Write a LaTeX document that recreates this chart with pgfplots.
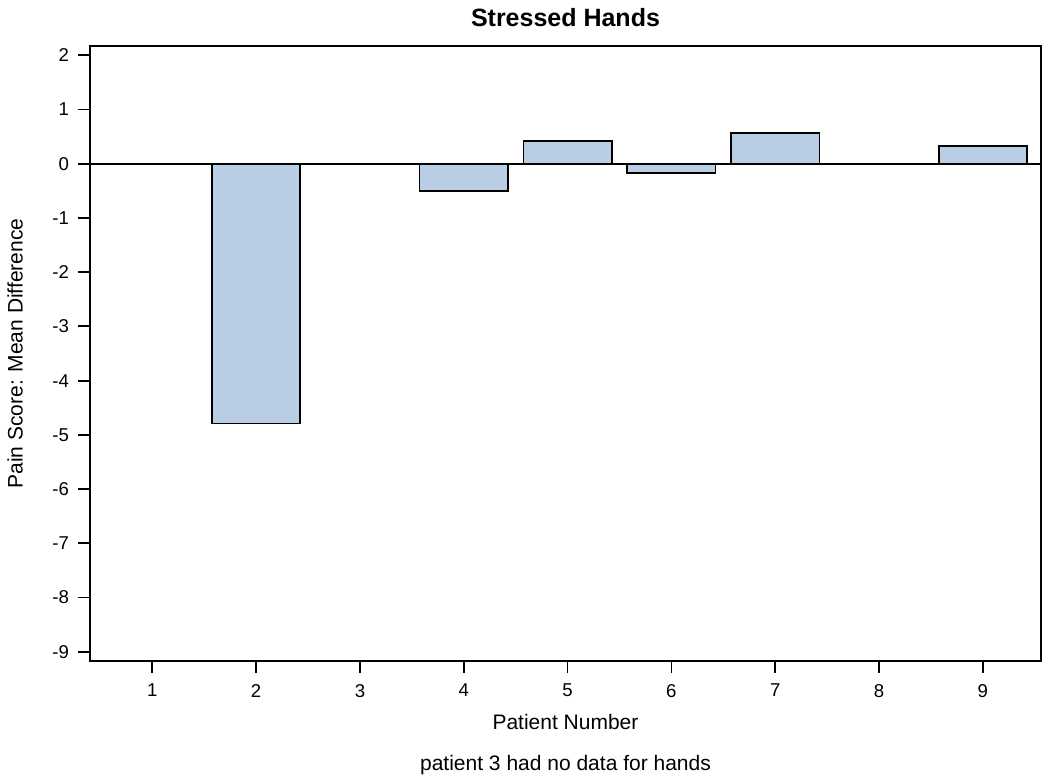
\documentclass[border=0pt]{standalone}
\usepackage{pgfplots}
\pgfplotsset{compat=1.18}
\usepackage{fontspec}
\setmainfont{Liberation Sans}
\definecolor{barblue}{RGB}{185,205,229}
\begin{document}
\begin{tikzpicture}
\begin{axis}[
    at={(0,0)}, anchor=south west,
    scale only axis, width=475.5pt, height=307.5pt,
    xmin=0.4, xmax=9.56, ymin=-9.17, ymax=2.17,
    xtick={1,...,9}, xticklabels={1,2,3,4,5,6,7,8,9},
    ytick={-9,...,2}, yticklabels={-9,-8,-7,-6,-5,-4,-3,-2,-1,0,1,2},
    tick align=outside, major tick length=6pt,
    xtick pos=left, ytick pos=left,
    axis line style={line width=0.9pt},
    every tick/.style={black, line width=0.9pt},
    tick label style={font=\fontsize{9.3}{11}\selectfont},
    xticklabel style={yshift=-2pt},
    yticklabel style={xshift=-1pt},
    clip=false]
\addplot[ybar, bar width=0.85, fill=barblue, draw=black, line width=0.8pt]
    coordinates {(2,-4.79) (4,-0.50) (5,0.42) (6,-0.17) (7,0.57) (9,0.33)};
\addplot[black, line width=0.9pt] coordinates {(0.4,0) (9.56,0)};
\end{axis}
% page frame and text around the axis
\path (-45pt,-60pt) rectangle (480pt,330.5pt);
\node[font=\fontsize{12.5}{15}\selectfont\bfseries] at (237.75pt,321.5pt) {Stressed Hands};
\node[font=\fontsize{10.5}{13}\selectfont] at (237.75pt,-30.5pt) {Patient Number};
\node[font=\fontsize{10.5}{13}\selectfont] at (237.75pt,-52pt) {patient 3 had no data for hands};
\node[font=\fontsize{10.5}{13}\selectfont, rotate=90] at (-37.5pt,153.75pt) {Pain Score: Mean Difference};
\end{tikzpicture}
\end{document}
